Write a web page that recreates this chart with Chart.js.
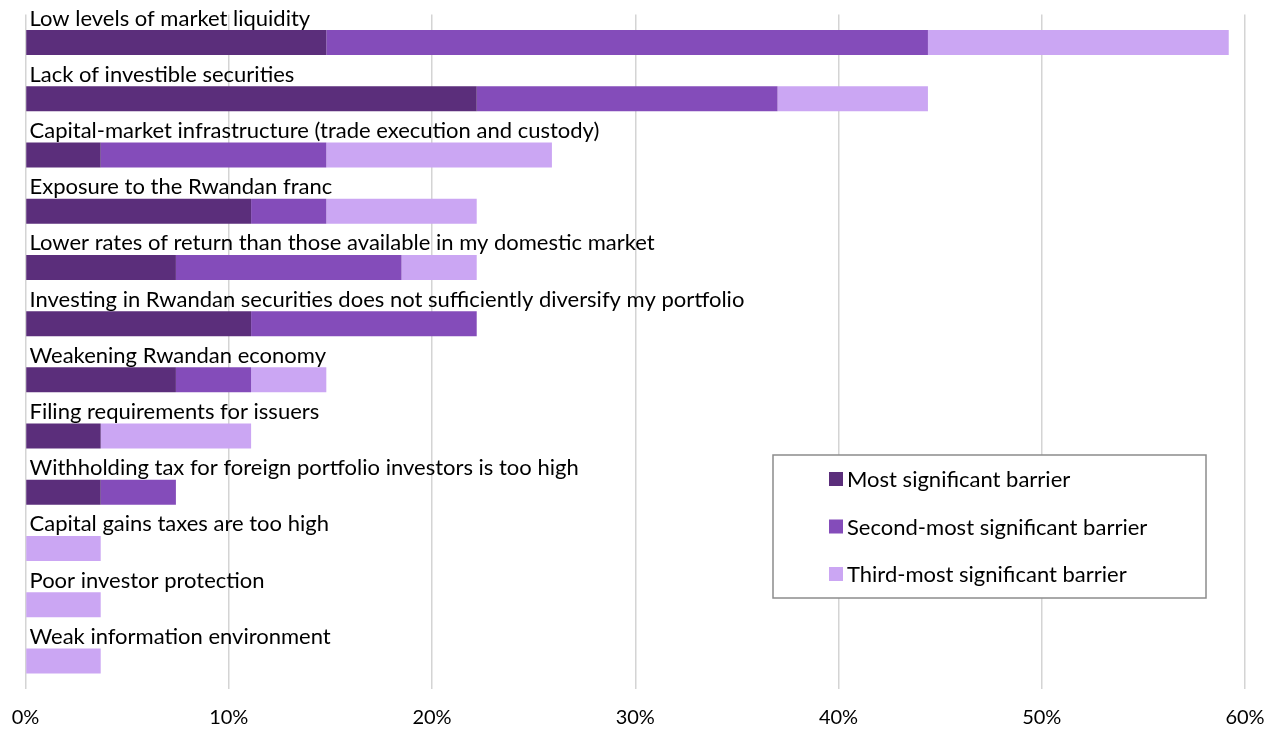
<!DOCTYPE html>
<html>
<head>
<meta charset="utf-8">
<script src="https://cdn.jsdelivr.net/npm/chart.js@4.4.0/dist/chart.umd.min.js"></script>
<style>
  body { margin: 0; background: #fff; }
</style>
</head>
<body>
<canvas id="barChart" width="1281" height="734"></canvas>
<script>
// categories, top to bottom
const categories = [
  "Low levels of market liquidity",
  "Lack of investible securities",
  "Capital-market infrastructure (trade execution and custody)",
  "Exposure to the Rwandan franc",
  "Lower rates of return than those available in my domestic market",
  "Investing in Rwandan securities does not sufficiently diversify my portfolio",
  "Weakening Rwandan economy",
  "Filing requirements for issuers",
  "Withholding tax for foreign portfolio investors is too high",
  "Capital gains taxes are too high",
  "Poor investor protection",
  "Weak information environment"
];
const seriesNames = ["Most significant barrier", "Second-most significant barrier", "Third-most significant barrier"];
const mostSignificant = [14.8, 22.2, 3.7, 11.1, 7.4, 11.1, 7.4, 3.7, 3.7, 0, 0, 0];
const secondMost = [29.6, 14.8, 11.1, 3.7, 11.1, 11.1, 3.7, 0, 3.7, 0, 0, 0];
const thirdMost = [14.8, 7.4, 11.1, 7.4, 3.7, 0, 3.7, 7.4, 0, 3.7, 3.7, 3.7];
const tickValues = [0, 10, 20, 30, 40, 50, 60];
const seriesColors = ["#5b2e7b", "#844cba", "#cba6f3"];

Chart.defaults.font.family = "Lato";
Chart.defaults.color = "#000";

// labels sit above each bar instead of on a y axis
const categoryLabels = {
  id: 'categoryLabels',
  afterDatasetsDraw(chart) {
    const ctx = chart.ctx;
    const y = chart.scales.y;
    ctx.save();
    ctx.font = '22px Lato';
    ctx.fillStyle = '#000';
    ctx.textBaseline = 'alphabetic';
    categories.forEach((c, i) => {
      ctx.fillText(c, chart.chartArea.left + 4, y.getPixelForValue(i) - 17);
    });
    ctx.restore();
  }
};

// boxed legend inside the plot, lower right
const boxLegend = {
  id: 'boxLegend',
  afterDraw(chart, args, opts) {
    const ctx = chart.ctx;
    ctx.save();
    ctx.fillStyle = '#fff';
    ctx.fillRect(opts.left, opts.top, opts.width, opts.height);
    ctx.strokeStyle = '#8c8c8c';
    ctx.lineWidth = 1.5;
    ctx.strokeRect(opts.left, opts.top, opts.width, opts.height);
    ctx.font = '22px Lato';
    ctx.textBaseline = 'middle';
    chart.data.datasets.forEach((ds, i) => {
      const cy = opts.top + opts.firstRow + i * opts.rowGap;
      ctx.fillStyle = ds.backgroundColor;
      ctx.fillRect(opts.left + 56, cy - 7, 14, 14);
      ctx.fillStyle = '#000';
      ctx.fillText(ds.label, opts.left + 74, cy + 1);
    });
    ctx.restore();
  }
};

new Chart("barChart", {
  type: "bar",
  data: {
    labels: categories,
    datasets: [
      { label: seriesNames[0], data: mostSignificant, backgroundColor: seriesColors[0] },
      { label: seriesNames[1], data: secondMost, backgroundColor: seriesColors[1] },
      { label: seriesNames[2], data: thirdMost, backgroundColor: seriesColors[2] }
    ]
  },
  options: {
    indexAxis: 'y',
    responsive: false,
    animation: false,
    layout: { padding: { left: 25.5, right: 36, top: 14.5, bottom: 0 } },
    datasets: { bar: { categoryPercentage: 1, barPercentage: 0.445, borderWidth: 0 } },
    scales: {
      x: {
        stacked: true,
        min: 0,
        max: 60,
        afterBuildTicks: (axis) => { axis.ticks = tickValues.map(v => ({ value: v })); },
        afterFit: (axis) => { axis.height = 45; axis.paddingLeft = 0; axis.paddingRight = 0; },
        ticks: { padding: 17, font: { size: 20 }, callback: v => v + '%' },
        grid: { color: '#d4d4d4', lineWidth: 1.5, drawTicks: false },
        border: { display: false }
      },
      y: {
        stacked: true,
        display: false
      }
    },
    plugins: {
      legend: { display: false },
      tooltip: { enabled: false },
      boxLegend: { left: 773, top: 455, width: 433, height: 143, firstRow: 24, rowGap: 47.5 }
    }
  },
  plugins: [categoryLabels, boxLegend]
});
</script>
</body>
</html>
